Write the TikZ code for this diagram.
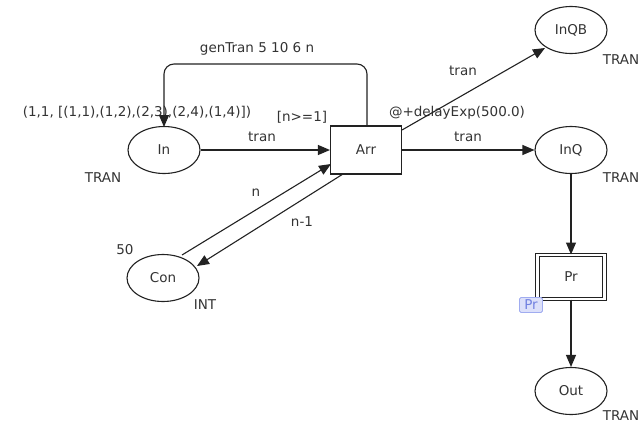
\documentclass[tikz,border=0pt]{standalone}
\usepackage{fontspec}
\setmainfont{DejaVu Sans}
\usetikzlibrary{arrows.meta,calc,shapes.geometric}
\definecolor{ln}{HTML}{222222}
\definecolor{tx}{HTML}{333333}
\definecolor{tagfill}{HTML}{DCE0FA}
\definecolor{tagdraw}{HTML}{A0ACF0}
\definecolor{tagtext}{HTML}{7080E0}
\begin{document}
\begin{tikzpicture}[x=1pt,y=-1pt,
  every node/.style={font=\fontsize{13.5}{15}\selectfont, text=tx},
  place/.style={draw=ln, line width=1.1pt, ellipse, minimum width=72pt, minimum height=47pt, inner sep=0pt},
  trans/.style={draw=ln, line width=1.1pt, rectangle, minimum width=71pt, minimum height=48pt, inner sep=0pt},
  arc/.style={draw=ln, line width=1.1pt, -{Triangle[length=12pt,width=10pt]}},
  lbl/.style={inner sep=1pt}]
\useasboundingbox (0,0) rectangle (639,423);
% places
\node[place] (In) at (164,150) {In};
\node[place] (InQB) at (571,30) {InQB};
\node[place] (InQ) at (571,150) {InQ};
\node[place] (Con) at (163,278) {Con};
\node[place] (Out) at (571,391) {Out};
% transitions
\node[trans] (Arr) at (366,150) {Arr};
\node[trans, double, double distance=2.5pt, line width=1pt, minimum width=67pt, minimum height=44pt] (Pr) at (571,277) {Pr};
\node[draw=tagdraw, fill=tagfill, text=tagtext, rounded corners=1.5pt, inner sep=0pt, minimum width=23pt, minimum height=15pt, line width=0.8pt] (tag) at (531,305) {Pr};
% type labels
\node[lbl] (tIn) at (103,178) {TRAN};
\node[lbl] (tInQB) at (621,60) {TRAN};
\node[lbl] (tInQ) at (621,178) {TRAN};
\node[lbl] (tOut) at (621,416) {TRAN};
\node[lbl] (tCon) at (205,305) {INT};
\node[lbl] (mCon) at (125,250) {50};
\node[lbl] (mIn) at (137,112) {(1,1, [(1,1),(1,2),(2,3),(2,4),(1,4)])};
\node[lbl] (guard) at (302,117) {[n>=1]};
\node[lbl] (tm) at (457,113) {@+delayExp(500.0)};
% arcs
\coordinate (a1) at (367,126);
\coordinate (a2) at (367,64);
\coordinate (a3) at (164,64);
\coordinate (a4) at (164,127);
\draw[arc, rounded corners=10pt] (a1) -- (a2) -- (a3) -- (a4);
\node[lbl] (gen) at (257,49) {genTran 5 10 6 n};
\draw[arc] (In.east) -- (Arr.west);
\node[lbl] (t1) at (262,137) {tran};
\coordinate (arrNE) at (402,130);
\coordinate (inqbSW) at (545,48);
\draw[arc] (arrNE) -- (inqbSW);
\node[lbl] (t2) at (463,71) {tran};
\draw[arc] (Arr.east) -- (InQ.west);
\node[lbl] (t3) at (468,137) {tran};
\coordinate (conA) at (182,255);
\coordinate (arrA) at (331,164);
\draw[arc] (conA) -- (arrA);
\node[lbl] (ln) at (256,193) {n};
\coordinate (arrB) at (343,174);
\coordinate (conB) at (197,266);
\draw[arc] (arrB) -- (conB);
\node[lbl] (lnm) at (302,222) {n-1};
\draw[arc] (InQ.south) -- (Pr.north);
\draw[arc] (Pr.south) -- (Out.north);
\end{tikzpicture}
\end{document}
